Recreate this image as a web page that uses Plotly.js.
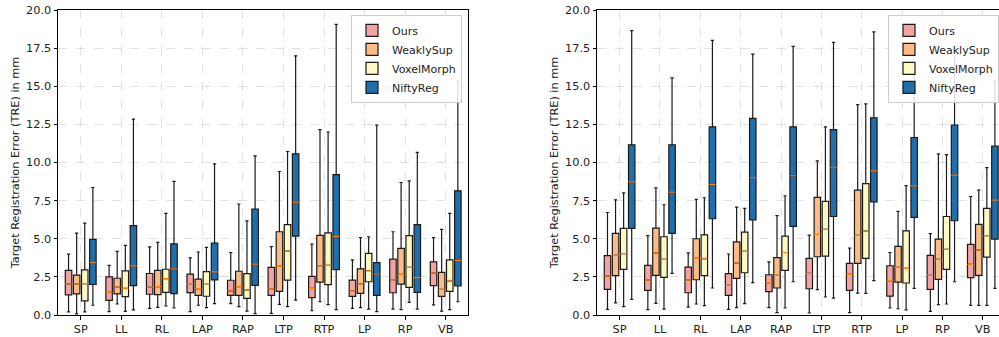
<!DOCTYPE html>
<html>
<head>
<meta charset="utf-8">
<script src="https://cdn.plot.ly/plotly-3.0.1.min.js"></script>
<style>
html,body{margin:0;padding:0;overflow:hidden;background:#fff;}
#chart{width:1010px;height:337px;}
</style>
</head>
<body>
<div id="chart"></div>
<script>
// Categories and methods
const categories = ['SP','LL','RL','LAP','RAP','LTP','RTP','LP','RP','VB'];
const methods = ['Ours','WeaklySup','VoxelMorph','NiftyReg'];
const colors = ['#f4a3a3','#fdbb86','#fff9c2','#1f6fad'];

// Each row: [lower whisker, Q1, median, Q3, upper whisker] per category
// Left panel
const leftOurs = [[0.2,1.32,2.04,2.92,3.99],[0.22,0.96,1.49,2.5,3.26],[0.44,1.36,1.82,2.72,4.47],[0.22,1.47,2.06,2.68,3.75],[0.75,1.29,1.58,2.28,4.1],[0.11,1.29,1.72,3.12,4.48],[0.28,1.14,1.75,2.53,4.65],[0.44,1.22,1.59,2.29,3.62],[0.39,1.46,2.31,3.67,5.46],[0.66,1.92,2.75,3.49,5.07]];
const leftWeakly = [[0.07,1.38,2.04,2.61,5.37],[0.72,1.38,1.83,2.41,4.17],[0.5,1.34,1.86,2.92,4.76],[0.64,1.29,1.73,2.35,4.13],[0.55,1.29,1.86,2.87,7.28],[0.7,1.55,3.19,5.46,9.41],[0.87,2.16,3.23,5.22,12.16],[0.48,1.42,2.05,3.03,5.07],[0.35,2.03,2.66,4.37,8.69],[0.26,1.22,1.68,2.79,5.61]];
const leftVoxel = [[0.2,0.92,2.06,2.96,6.03],[0.24,1.21,1.75,2.89,4.56],[0.59,1.49,2.39,3.0,6.67],[0.48,1.23,2.06,2.85,4.43],[0.25,1.09,1.65,2.71,6.17],[0.55,2.29,4.19,5.92,10.72],[0.68,1.99,3.25,5.39,12.0],[0.39,2.18,2.9,4.04,5.13],[0.83,1.81,3.12,5.2,8.8],[0.35,1.55,2.23,3.62,6.66]];
const leftNifty = [[0.64,2.0,3.44,4.96,8.36],[0.33,1.93,3.22,5.86,12.84],[0.46,1.4,3.03,4.67,8.76],[0.75,2.3,2.83,4.71,9.91],[0.09,1.94,3.34,6.94,10.44],[0.98,5.17,7.4,10.57,16.99],[0.35,2.97,5.15,9.21,19.06],[0.22,1.29,2.69,3.43,12.45],[0.39,1.48,2.45,5.92,10.66],[0.87,1.9,3.58,8.14,15.33]];
// Right panel
const rightOurs = [[0.37,1.68,2.55,3.89,6.72],[0.35,1.62,2.29,3.25,5.2],[0.52,1.46,2.29,3.14,4.08],[0.37,1.29,1.94,2.71,4.0],[0.48,1.53,2.12,2.64,3.49],[0.13,1.72,2.73,3.71,5.24],[0.15,1.62,2.66,3.38,4.39],[0.46,1.24,2.25,3.23,4.1],[0.24,1.68,2.6,3.91,5.33],[0.63,2.45,3.32,4.63,7.77]];
const rightWeakly = [[0.79,2.58,3.91,5.35,7.55],[0.76,2.6,4.08,5.7,8.34],[0.72,2.31,3.71,5.0,7.58],[0.48,2.4,3.41,4.8,7.07],[0.15,1.77,2.6,3.76,6.51],[1.66,3.82,5.28,7.71,10.11],[1.44,3.38,5.22,8.19,13.8],[0.41,2.16,3.12,4.5,6.79],[0.68,2.34,3.65,4.98,10.57],[0.63,2.6,4.26,5.94,8.19]];
const rightVoxel = [[0.55,2.99,4.02,5.68,8.01],[0.39,2.47,3.65,5.13,7.23],[0.61,2.58,3.69,5.26,7.69],[0.74,2.77,4.17,5.44,6.99],[0.46,2.93,4.1,5.17,7.82],[1.18,3.86,5.61,7.45,12.34],[1.42,3.71,5.5,8.62,13.84],[0.33,2.1,3.06,5.52,8.49],[0.72,2.99,4.3,6.46,10.52],[0.63,3.8,5.2,6.99,9.67]];
const rightNifty = [[1.03,5.68,8.73,11.16,18.65],[2.73,5.35,8.06,11.16,15.55],[1.77,6.31,8.56,12.34,18.01],[2.12,6.24,9.0,12.9,17.1],[2.18,5.81,9.13,12.34,17.62],[1.11,6.46,9.69,12.16,17.88],[2.25,7.42,9.45,12.93,18.56],[1.75,6.4,8.47,11.64,16.3],[2.18,6.18,9.17,12.45,17.0],[1.75,4.98,7.53,11.07,15.33]];

const yTitle = 'Target Registration Error (TRE) in mm';
const FONT = 'DejaVu Sans, sans-serif';

const traces = [];
function addPanel(sets, xa, ya, legendId) {
  sets.forEach((rows, i) => {
    const col = k => rows.map(r => r[k]);
    traces.push({
      type: 'box', name: methods[i], x: categories,
      lowerfence: col(0), q1: col(1), median: col(2), q3: col(3), upperfence: col(4),
      xaxis: xa, yaxis: ya, legend: legendId,
      offsetgroup: methods[i], alignmentgroup: xa,
      fillcolor: colors[i], line: {color: '#1a1a1a', width: 1.2},
      whiskerwidth: 0.5, boxpoints: false, hoverinfo: 'skip'
    });
  });
  sets.forEach((rows, i) => {
    const med = rows.map(r => r[2]);
    traces.push({
      type: 'box', name: methods[i] + ' median', x: categories,
      lowerfence: med, q1: med, median: med, q3: med, upperfence: med,
      xaxis: xa, yaxis: ya, showlegend: false,
      offsetgroup: methods[i], alignmentgroup: xa,
      fillcolor: 'rgba(0,0,0,0)', line: {color: '#ff7f0e', width: 1.2},
      whiskerwidth: 0, boxpoints: false, hoverinfo: 'skip'
    });
  });
}
addPanel([leftOurs, leftWeakly, leftVoxel, leftNifty], 'x', 'y', 'legend');
addPanel([rightOurs, rightWeakly, rightVoxel, rightNifty], 'x2', 'y2', 'legend2');

const W = 1010;
const gridc = 'rgba(170,170,170,0.35)';
function xax(d0, d1, anchor) {
  return {
    domain: [d0 / W, d1 / W], anchor: anchor, type: 'category',
    range: [-0.56, 9.55], showgrid: true, gridcolor: gridc, griddash: 'dash', gridwidth: 1,
    showline: true, mirror: true, linecolor: '#000', linewidth: 1,
    ticks: 'outside', ticklen: 3.5, tickcolor: '#000',
    tickfont: {family: FONT, size: 11.3, color: '#222'}, zeroline: false, fixedrange: true
  };
}
function yax(anchor) {
  return {
    domain: [0, 1], anchor: anchor, range: [0, 20], dtick: 2.5, tick0: 0, tickformat: '.1f',
    showgrid: true, gridcolor: gridc, griddash: 'dash', gridwidth: 1,
    showline: true, mirror: true, linecolor: '#000', linewidth: 1,
    ticks: 'outside', ticklen: 3.5, tickcolor: '#000',
    tickfont: {family: FONT, size: 11.3, color: '#222'}, zeroline: false,
    title: {text: yTitle, font: {family: FONT, size: 11.3, color: '#222'}, standoff: 4}
  };
}
function leg(xr) {
  return {
    x: xr / W, xanchor: 'right', y: 0.984, yanchor: 'top',
    bgcolor: 'rgba(255,255,255,0.85)', bordercolor: '#cccccc', borderwidth: 1,
    font: {family: FONT, size: 11, color: '#222'}, tracegroupgap: 0, itemwidth: 30
  };
}
const layout = {
  width: W, height: 337,
  margin: {l: 0, r: 0, t: 10, b: 22},
  paper_bgcolor: '#fff', plot_bgcolor: '#fff',
  boxmode: 'group', boxgap: 0.2, boxgroupgap: 0.2,
  font: {family: FONT},
  xaxis: xax(58, 468, 'y'),
  yaxis: yax('x'),
  xaxis2: xax(597, 1005, 'y2'),
  yaxis2: yax('x2'),
  legend: leg(462),
  legend2: leg(999),
  showlegend: true
};
Plotly.newPlot('chart', traces, layout, {staticPlot: true, displayModeBar: false});
</script>
</body>
</html>
